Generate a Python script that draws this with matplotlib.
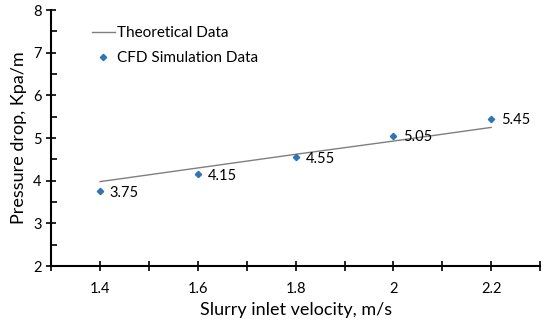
import matplotlib.pyplot as plt
import numpy as np

velocity = [1.4, 1.6, 1.8, 2.0, 2.2]
cfd = [3.75, 4.15, 4.55, 5.05, 5.45]
theory = [3.98, 4.30, 4.62, 4.93, 5.25]

plt.rcParams['font.family'] = ['Lato', 'DejaVu Sans']

fig = plt.figure(figsize=(5.5, 3.23), dpi=100)
ax = fig.add_axes([0.093, 0.176, 0.889, 0.793])

ax.plot(velocity, theory, color='#7f7f7f', linewidth=1.0, label='Theoretical Data')
ax.plot(velocity, cfd, linestyle='none', marker='D', markersize=3.2,
        color='#2e75b6', label='CFD Simulation Data')
for x, y in zip(velocity, cfd):
    ax.annotate('%.2f' % y, (x, y), xytext=(7, -1), textcoords='offset points',
                fontsize=10.5, color='black', va='center')

ax.set_xlim(1.3, 2.3)
ax.set_ylim(2, 8)
ax.set_xticks(np.arange(1.3, 2.31, 0.1))
ax.set_xticklabels(['' if i % 2 == 0 else ('%g' % v) for i, v in enumerate(np.arange(1.3, 2.31, 0.1))])
ax.set_yticks(range(2, 9))
ax.set_yticks(np.arange(2.5, 8, 1), minor=True)
ax.tick_params(axis='both', which='major', direction='inout', length=7, width=1.2, labelsize=10.5)
ax.tick_params(axis='y', which='minor', direction='in', length=4, width=1.2)
ax.tick_params(axis='x', pad=8)

for s in ['top', 'right']:
    ax.spines[s].set_visible(False)
for s in ['left', 'bottom']:
    ax.spines[s].set_linewidth(1.5)

ax.set_xlabel('Slurry inlet velocity, m/s', fontsize=13)
ax.set_ylabel('Pressure drop, Kpa/m', fontsize=13)

ax.legend(loc='upper left', bbox_to_anchor=(0.055, 0.99), frameon=False, fontsize=11,
          handlelength=1.5, handletextpad=0.15, labelspacing=0.7)

fig.savefig('out.png', dpi=100)
